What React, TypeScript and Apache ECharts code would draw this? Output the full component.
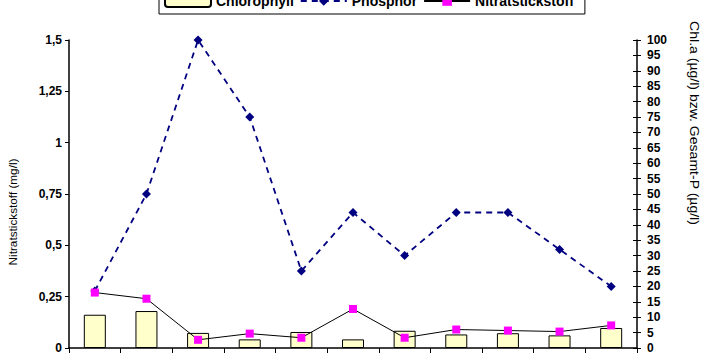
import React, { useEffect, useRef } from "react";
import * as echarts from "echarts";

const categories = ["1", "2", "3", "4", "5", "6", "7", "8", "9", "10", "11"];
const chlorophyll = [10.8, 12, 4.9, 2.8, 5.2, 2.8, 5.6, 4.4, 4.8, 4.1, 6.5];
const phosphor = [18.5, 50, 100, 75, 25, 44, 30, 44, 44, 32, 20];
const nitrat = [0.27, 0.24, 0.04, 0.07, 0.05, 0.19, 0.05, 0.09, 0.085, 0.08, 0.11];
const leftTitle = "Nitratstickstoff (mg/l)";
const rightTitle = "Chl.a (µg/l) bzw. Gesamt-P (µg/l)";

const FONT = "'Liberation Sans', Arial, sans-serif";

export default function App() {
  const ref = useRef<HTMLDivElement>(null);
  useEffect(() => {
    if (!ref.current) return;
    const chart = echarts.init(ref.current, undefined, { renderer: "svg" });
    const axisLabel = {
      color: "#000",
      fontWeight: "bold" as const,
      fontSize: 12,
      fontFamily: FONT,
    };
    chart.setOption({
      animation: false,
      backgroundColor: "#fff",
      textStyle: { fontFamily: FONT },
      legend: {
        left: 159,
        top: -12,
        padding: [6, 11, 6, 5],
        itemWidth: 46,
        itemHeight: 12,
        itemGap: 6,
        borderColor: "#000",
        borderWidth: 1,
        backgroundColor: "#fff",
        textStyle: { color: "#000", fontWeight: "bold", fontSize: 14, fontFamily: FONT },
        data: ["Chlorophyll", "Phosphor", "Nitratstickstoff"],
      },
      grid: { left: 69, right: 70, top: 40, bottom: 6, containLabel: false },
      xAxis: {
        type: "category",
        data: categories,
        boundaryGap: true,
        axisLine: { lineStyle: { color: "#000", width: 1.5 } },
        axisTick: { show: true, length: 5, lineStyle: { color: "#000" } },
        axisLabel: { show: false },
        splitLine: { show: false },
      },
      yAxis: [
        {
          type: "value",
          min: 0,
          max: 1.5,
          interval: 0.25,
          position: "left",
          axisLine: { show: true, lineStyle: { color: "#000", width: 1.5 } },
          axisTick: { show: true, length: 4, lineStyle: { color: "#000" } },
          axisLabel: { ...axisLabel, margin: 7, formatter: (v: number) => String(v).replace(".", ",") },
          splitLine: { show: false },
        },
        {
          type: "value",
          min: 0,
          max: 100,
          interval: 5,
          position: "right",
          axisLine: { show: true, lineStyle: { color: "#000", width: 1.5 } },
          axisTick: { show: true, length: 4, lineStyle: { color: "#000" } },
          axisLabel: { ...axisLabel, margin: 10 },
          splitLine: { show: false },
        },
        {
          type: "value",
          min: 0,
          max: 100,
          interval: 5,
          position: "right",
          axisLine: { show: false },
          axisTick: { show: true, inside: true, length: 4, lineStyle: { color: "#000" } },
          axisLabel: { show: false },
          splitLine: { show: false },
        },
      ],
      graphic: [
        {
          type: "text",
          x: 13,
          y: 212,
          rotation: Math.PI / 2,
          scaleX: 1.07,
          style: {
            text: leftTitle,
            fill: "#000",
            font: `11px ${FONT}`,
            align: "center",
            verticalAlign: "middle",
          },
        },
        {
          type: "text",
          x: 694,
          y: 123,
          rotation: -Math.PI / 2,
          scaleX: 1.17,
          style: {
            text: rightTitle,
            fill: "#000",
            font: `12px ${FONT}`,
            align: "center",
            verticalAlign: "middle",
          },
        },
      ],
      series: [
        {
          name: "Chlorophyll",
          type: "bar",
          yAxisIndex: 1,
          data: chlorophyll,
          barWidth: 22,
          itemStyle: { color: "#FFFFCC", borderColor: "#000", borderWidth: 1 },
          z: 1,
        },
        {
          name: "Phosphor",
          type: "line",
          yAxisIndex: 1,
          data: phosphor,
          symbol: "diamond",
          symbolSize: 9,
          itemStyle: { color: "#000080" },
          lineStyle: { color: "#000080", width: 1.8, type: [6, 5] },
          z: 3,
        },
        {
          name: "Nitratstickstoff",
          type: "line",
          yAxisIndex: 0,
          data: nitrat,
          symbol: "rect",
          symbolSize: 8,
          itemStyle: { color: "#FF00FF" },
          lineStyle: { color: "#000", width: 1 },
          z: 4,
        },
      ],
    });
    return () => chart.dispose();
  }, []);
  return (
    <div
      ref={ref}
      style={{ position: "fixed", left: 0, top: 0, width: 707, height: 354 }}
    />
  );
}
